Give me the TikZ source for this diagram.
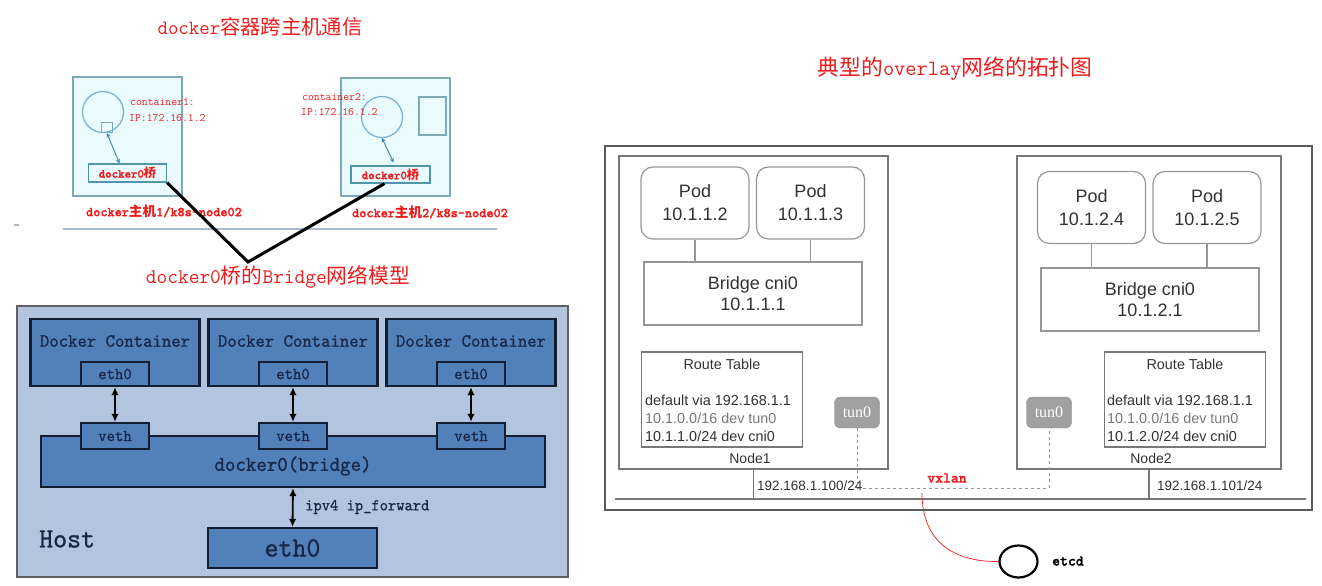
\documentclass[tikz,border=0pt]{standalone}
\usepackage{fontspec}
\setmainfont{Liberation Sans}
\newfontfamily\cjk{Noto Sans CJK SC}
\newfontfamily\serifont{Liberation Serif}
\newfontfamily\simfont[FakeStretch=0.95,FakeBold=0.8]{lmmono10-regular.otf}
\newfontfamily\ttbold[FakeBold=1.5]{lmmonolt10-bold.otf}
\usepackage{xcolor}
\usepackage{tikz}
\usetikzlibrary{positioning,calc,shapes.geometric,arrows.meta}

\definecolor{redtxt}{RGB}{236,28,28}
\definecolor{cyanfill}{RGB}{233,251,252}
\definecolor{cyanline}{RGB}{125,170,182}
\definecolor{circline}{RGB}{118,176,206}
\definecolor{tealarr}{RGB}{50,130,176}
\definecolor{sepline}{RGB}{170,186,200}
\definecolor{hostbg}{RGB}{178,196,222}
\definecolor{dkfill}{RGB}{82,129,186}
\definecolor{dkline}{RGB}{20,30,50}
\definecolor{dktext}{RGB}{24,38,72}
\definecolor{podgray}{RGB}{150,150,150}
\definecolor{rtgray}{RGB}{120,120,120}
\definecolor{tungray}{RGB}{160,160,160}

\newcommand{\zh}[1]{{\cjk #1}}
\newcommand{\zhb}[1]{{\cjk\bfseries #1}}

\begin{document}
\begin{tikzpicture}[x=1pt,y=-1pt,
  redtitle/.style={text=redtxt, inner sep=0, font=\ttfamily\fontsize{20.3}{22}\selectfont},
  redlabel/.style={text=redtxt, inner sep=0, font=\ttbold\fontsize{13.6}{14}\selectfont},
  redsmall/.style={text=redtxt, inner sep=0, anchor=west, font=\ttfamily\fontsize{11.4}{12}\selectfont},
  cyanbox/.style={draw=cyanline, fill=cyanfill, line width=1.2pt},
  bridgebox/.style={draw={rgb,255:red,80;green,150;blue,170}, fill=cyanfill, line width=1.2pt,
    text=redtxt, inner sep=0, font=\ttbold\fontsize{12.3}{13}\selectfont},
  tealarrow/.style={<->, >=stealth, tealarr, line width=0.9pt},
  dkbox/.style={draw=dkline, fill=dkfill, line width=2.4pt, text=dktext, inner sep=0},
  dktxt/.style={text=dktext, inner sep=0},
  dkarrow/.style={<->, >={Latex[length=8pt,width=7.5pt]}, line width=1.8pt},
  pod/.style={draw=podgray, line width=1.2pt, rounded corners=12pt, align=center, text={rgb,255:red,50;green,50;blue,50},
    font=\fontsize{18}{23}\selectfont, minimum width=108, minimum height=72},
  cnibox/.style={draw=podgray, line width=1.2pt, align=center, text={rgb,255:red,50;green,50;blue,50},
    font=\fontsize{18}{20.5}\selectfont, minimum width=218, minimum height=63},
  nodebox/.style={draw=rtgray, line width=1.5pt},
  rtbox/.style={draw=rtgray, line width=1.2pt, minimum width=161, minimum height=95},
  rttxt/.style={inner sep=0, text={rgb,255:red,50;green,50;blue,50}, font=\fontsize{14.4}{18}\selectfont},
  tun/.style={fill=tungray, draw=tungray!85!black, rounded corners=6pt, text=white, inner sep=0,
    minimum width=45, minimum height=31, font=\serifont\fontsize{16}{16}\selectfont}]
\useasboundingbox (0,0) rectangle (1322,586);

% Cross-host communication (top left)
\node[redtitle] (title1) at (260,27) {docker\zh{容器跨主机通信}};

\node[cyanbox, minimum width=109, minimum height=119] (host1) at (127.5,136.5) {};
\node[draw=circline, circle, line width=1.2pt, minimum size=41] (circ1) at (103,112) {};
\node[draw=cyanline, line width=1pt, inner sep=0, minimum size=10.5] (port1) at (107,127.5) {};
\node[redsmall] at (130,102) {container1:};
\node[redsmall] at (129,118) {IP:172.16.1.2};
\node[bridgebox, minimum width=78, minimum height=18] (br1) at (127.5,173) {docker0\zhb{桥}};
\draw[tealarrow] (port1.south) -- ($(br1.north)+(-8,0)$);

\node[cyanbox, minimum width=109, minimum height=118] (host2) at (395.5,137) {};
\node[draw=circline, circle, line width=1.2pt, minimum size=41] (circ2) at (382,117) {};
\node[draw=cyanline, line width=1.2pt, inner sep=0, minimum width=27, minimum height=38] (rect2) at (432.5,116) {};
\node[redsmall] at (302,97) {container2:};
\node[redsmall] at (301,112) {IP:172.16.1.2};
\node[bridgebox, minimum width=79, minimum height=17] (br2) at (390.5,174.5) {docker0\zhb{桥}};
\draw[tealarrow] (circ2.south) -- ($(br2.north)+(3,-3)$);

\node[redlabel] (lab1) at (164,211) {docker\zhb{主机}1/k8s-node02};
\node[redlabel] (lab2) at (430,212) {docker\zhb{主机}2/k8s-node02};
\draw[sepline, line width=1.5pt] (14,225) -- (19,225);
\draw[sepline, line width=2.5pt] (63,229) -- (497,229);

\coordinate (vtip) at (248,262);
\draw[black, line width=3pt] (br1.south east) -- (vtip) -- ($(br2.south)+(-6,0)$);
\node[redtitle, font=\ttfamily\fontsize{20.8}{22}\selectfont] (title2) at (278,277) {docker0\zh{桥的}Bridge\zh{网络模型}};

% docker0 bridge model (bottom left)
\node[fill=hostbg, draw={rgb,255:red,95;green,95;blue,100}, line width=1.5pt, minimum width=551, minimum height=271] (host) at (292.5,441.5) {};
\node[dktxt, anchor=west, font=\simfont\fontsize{28}{28}\selectfont] at (39,539) {Host};

\foreach \x [count=\i] in {115,293,471} {
  \node[dkbox, minimum width=169, minimum height=67] (ct\i) at (\x,352.5) {};
  \node[dktxt, font=\simfont\fontsize{18.8}{20}\selectfont] at (\x,341) {Docker Container};
  \node[dkbox, minimum width=68, minimum height=24, font=\simfont\fontsize{16.8}{17}\selectfont] (eth\i) at (\x,374) {eth0};
}
\node[dkbox, minimum width=504, minimum height=51] (bridge) at (293,461.5) {};
\node[dktxt, font=\simfont\fontsize{21}{22}\selectfont] at (293,466) {docker0(bridge)};
\foreach \x [count=\i] in {115,293,471} {
  \node[dkbox, minimum width=68, minimum height=26, font=\simfont\fontsize{16.8}{17}\selectfont] (veth\i) at (\x,436) {veth};
  \draw[dkarrow] (eth\i.south) -- (veth\i.north);
}
\node[dkbox, minimum width=169, minimum height=40, font=\simfont\fontsize{28}{28}\selectfont] (ethhost) at (292.5,548) {eth0};
\draw[dkarrow] (bridge.south) -- (ethhost.north);
\node[dktxt, anchor=west, font=\simfont\fontsize{16.6}{17}\selectfont] at (305,507) {ipv4 ip\_forward};

% Overlay network topology (right)
\node[redtitle, font=\ttfamily\fontsize{21.8}{24}\selectfont] (title3) at (955,69) {\zh{典型的}overlay\zh{网络的拓扑图}};

\node[draw={rgb,255:red,90;green,90;blue,90}, line width=2pt, minimum width=707, minimum height=364] (overlay) at (958.5,328) {};
\node[nodebox, minimum width=269, minimum height=313] (node1) at (753.5,312.5) {};
\node[nodebox, minimum width=264, minimum height=313] (node2) at (1149,312.5) {};

\node[pod] (pod11) at (695,203) {Pod\\10.1.1.2};
\node[pod] (pod12) at (810.5,203) {Pod\\10.1.1.3};
\node[cnibox] (cni1) at (753,293.5) {Bridge cni0\\10.1.1.1};
\node[pod] (pod21) at (1091.5,207.5) {Pod\\10.1.2.4};
\node[pod] (pod22) at (1207,207.5) {Pod\\10.1.2.5};
\node[cnibox] (cni2) at (1150,299.5) {Bridge cni0\\10.1.2.1};
\foreach \p/\c in {pod11/cni1,pod12/cni1,pod21/cni2,pod22/cni2}
  \draw[podgray, line width=1.2pt] (\p.south) -- (\p.south |- \c.north);

\node[rtbox] (rt1) at (722,399.5) {};
\node[rttxt] at (722,364) {Route Table};
\node[rttxt, anchor=west, align=left] at (645,418) {default via 192.168.1.1\\\textcolor{rtgray}{10.1.0.0/16 dev tun0}\\10.1.1.0/24 dev cni0};
\node[rtbox] (rt2) at (1185,399.5) {};
\node[rttxt] at (1185,364) {Route Table};
\node[rttxt, anchor=west, align=left] at (1107,418) {default via 192.168.1.1\\\textcolor{rtgray}{10.1.0.0/16 dev tun0}\\10.1.2.0/24 dev cni0};

\node[tun] (tun1) at (857,412.5) {tun0};
\node[tun] (tun2) at (1049,412.5) {tun0};
\node[rttxt, font=\fontsize{14}{14}\selectfont] at (750,458) {Node1};
\node[rttxt, font=\fontsize{14}{14}\selectfont] at (1151,458) {Node2};

\coordinate (busL) at (615,499);
\coordinate (busR) at (1306,499);
\draw[rtgray, line width=1.2pt] (busL) -- (busR);
\draw[rtgray, line width=1.2pt] (node1.south) -- (node1.south |- busL);
\draw[rtgray, line width=1.2pt] (node2.south) -- (node2.south |- busL);
\node[rttxt, anchor=west, font=\fontsize{13.5}{14}\selectfont] at (757,486) {192.168.1.100/24};
\node[rttxt, anchor=west, font=\fontsize{13.5}{14}\selectfont] at (1157,486) {192.168.1.101/24};

\coordinate (vx) at (857,488);
\draw[podgray, dashed, line width=1pt] (tun1.south) -- (tun1.south |- vx) -- (tun2.south |- vx) -- (tun2.south);
\node[text=redtxt, inner sep=0, font=\ttbold\fontsize{15}{15}\selectfont] (vxlan) at (947,478) {vxlan};

\node[draw, ellipse, line width=2.2pt, minimum width=38, minimum height=32] (etcd) at (1018.5,561.5) {};
\node[inner sep=0, anchor=west, font=\ttbold\fontsize{15}{15}\selectfont] at (1052,561) {etcd};
\coordinate (vxs) at (922,493);
\draw[redtxt, line width=0.7pt] (vxs) .. controls (922,545) and (958,562) .. (etcd.west);
\end{tikzpicture}
\end{document}
